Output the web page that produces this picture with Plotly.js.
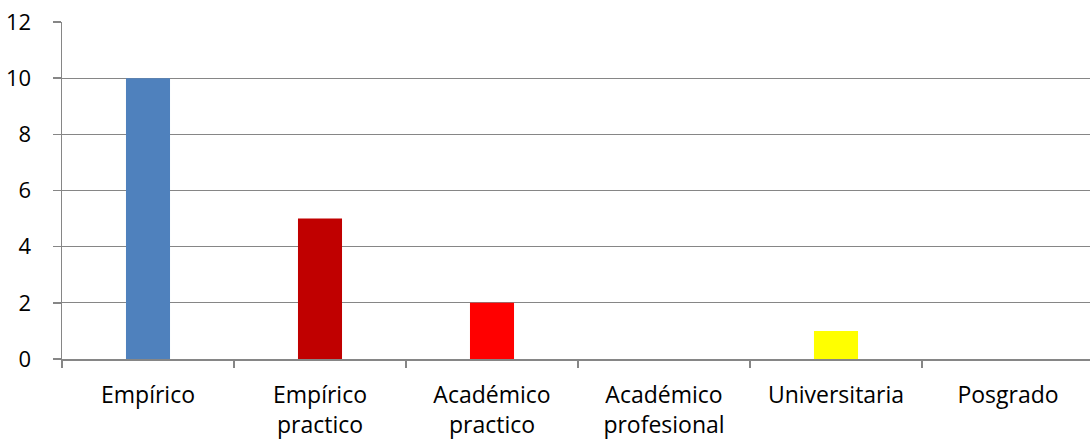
<!DOCTYPE html>
<html>
<head>
<meta charset="utf-8">
<script src="https://cdn.plot.ly/plotly-3.0.1.min.js"></script>
<style>
html,body{margin:0;padding:0;background:#fff;overflow:hidden;}
#chart{width:1094px;height:442px;}
</style>
</head>
<body>
<div id="chart"></div>
<script>
const categories = ["Empírico", "Empírico practico", "Académico practico", "Académico profesional", "Universitaria", "Posgrado"];
const tickLabels = ["Empírico", "Empírico<br>practico", "Académico<br>practico", "Académico<br>profesional", "Universitaria", "Posgrado"];
const values = [10, 5, 2, 0, 1, 0];
const barColors = ["#4F81BD", "#C00000", "#FF0000", "#7F7F7F", "#FFFF00", "#7F7F7F"];
const yTicks = [0, 2, 4, 6, 8, 10, 12];

const trace = {
  type: "bar",
  x: categories,
  y: values,
  width: 0.256,
  marker: {color: barColors, line: {width: 0}},
  hoverinfo: "x+y"
};

const layout = {
  width: 1094,
  height: 442,
  margin: {l: 62, r: 0, t: 22, b: 83, pad: 0},
  paper_bgcolor: "#ffffff",
  plot_bgcolor: "#ffffff",
  showlegend: false,
  font: {family: "Open Sans, sans-serif", color: "#000000", size: 22},
  xaxis: {
    type: "category",
    tickmode: "array",
    tickvals: categories,
    ticktext: tickLabels,
    tickson: "boundaries",
    ticks: "outside",
    ticklen: 7,
    tickcolor: "#868686",
    tickwidth: 1.5,
    showline: true,
    linecolor: "#868686",
    linewidth: 1.5,
    showgrid: false,
    zeroline: false,
    tickfont: {family: "Open Sans, sans-serif", size: 23, color: "#000"},
    ticklabelstandoff: 15
  },
  yaxis: {
    range: [0, 12],
    tickmode: "array",
    tickvals: yTicks,
    ticktext: yTicks.map(String),
    ticks: "outside",
    ticklen: 8,
    tickcolor: "#868686",
    tickwidth: 1.5,
    showline: true,
    linecolor: "#868686",
    linewidth: 1.5,
    showgrid: true,
    gridcolor: "#868686",
    gridwidth: 1.3,
    zeroline: false,
    tickfont: {family: "Open Sans, sans-serif", size: 22, color: "#000"},
    ticklabelstandoff: 17
  }
};

Plotly.newPlot("chart", [trace], layout, {displayModeBar: false, staticPlot: true});
</script>
</body>
</html>
